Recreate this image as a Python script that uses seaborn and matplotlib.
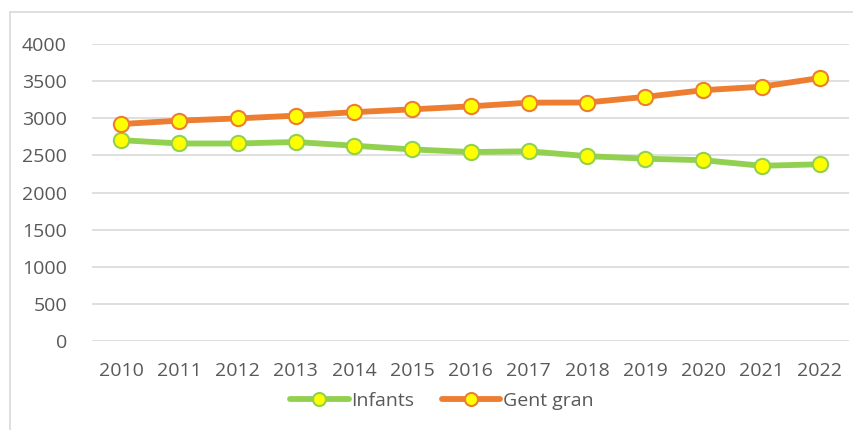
import matplotlib
matplotlib.use("Agg")
import matplotlib.pyplot as plt
import matplotlib.patches as mpatches
import seaborn as sns
import pandas as pd

years = [2010, 2011, 2012, 2013, 2014, 2015, 2016, 2017, 2018, 2019, 2020, 2021, 2022]
infants = [2705, 2660, 2660, 2680, 2630, 2580, 2545, 2555, 2490, 2455, 2435, 2360, 2380]
gent_gran = [2922, 2968, 2998, 3035, 3082, 3120, 3160, 3210, 3212, 3288, 3378, 3425, 3542]
series_names = ["Infants", "Gent gran"]
yticks = [0, 500, 1000, 1500, 2000, 2500, 3000, 3500, 4000]

df = pd.DataFrame({
    "Any": years * 2,
    "Valor": infants + gent_gran,
    "Serie": [series_names[0]] * len(years) + [series_names[1]] * len(years),
})

sns.set_theme(style="white")
plt.rcParams["font.family"] = ["Open Sans", "DejaVu Sans"]

fig = plt.figure(figsize=(8.54, 4.30), dpi=100)
ax = fig.add_axes([92 / 854, 1 - 341 / 430, 757 / 854, 297 / 430])

palette = {"Infants": "#92D050", "Gent gran": "#ED7D31"}
for name in series_names:
    sub = df[df["Serie"] == name]
    sns.lineplot(data=sub, x="Any", y="Valor", ax=ax, color=palette[name],
                 linewidth=4.2, marker="o", markersize=11,
                 markerfacecolor="#FFFF00", markeredgecolor=palette[name],
                 markeredgewidth=1.5, label=name, zorder=3)

ax.set_xlim(years[0] - 0.5, years[-1] + 0.5)
ax.set_ylim(0, 4000)
ax.set_xticks(years)
ax.set_xticklabels([str(y) for y in years])
ax.set_yticks(yticks)
ax.set_yticklabels([str(v) for v in yticks])
ax.grid(axis="y", color="#d9d9d9", linewidth=1.2)
ax.grid(axis="x", visible=False)
for s in ax.spines.values():
    s.set_visible(False)
ax.tick_params(axis="both", colors="#595959", labelsize=14, length=0)
ax.tick_params(axis="y", pad=18)
ax.tick_params(axis="x", pad=15)
ax.set_xlabel("")
ax.set_ylabel("")

handles, labels = ax.get_legend_handles_labels()
ax.get_legend().remove()
leg = fig.legend(handles, labels, loc="center", ncol=2,
                 bbox_to_anchor=(442 / 854, 1 - 401 / 430), frameon=False,
                 fontsize=14, handlelength=3.0, columnspacing=1.4,
                 handletextpad=0.15, markerscale=0.85)
for t in leg.get_texts():
    t.set_color("#595959")

border = mpatches.Rectangle((10 / 854, -0.2), 2, 1.2 - 12 / 430,
                            transform=fig.transFigure, fill=False,
                            edgecolor="#d9d9d9", linewidth=1.2)
fig.patches.append(border)

fig.savefig("out.png", dpi=100)
